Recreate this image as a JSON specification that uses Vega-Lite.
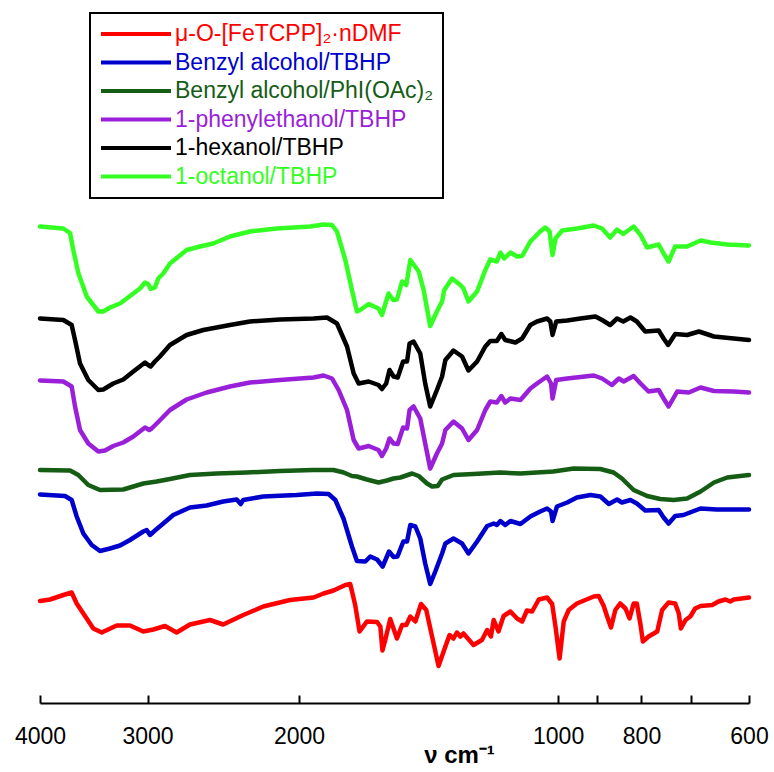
{
  "$schema": "https://vega.github.io/schema/vega-lite/v6.json",
  "autosize": "none",
  "width": 709,
  "height": 703,
  "padding": {"left": 40, "top": 0, "right": 25, "bottom": 69},
  "background": "white",
  "config": {"view": {"stroke": null}, "font": "Liberation Sans"},
  "datasets": {
    "names": [
      {"id": 1, "sample": "μ-O-[FeTCPP]₂·nDMF"},
      {"id": 2, "sample": "Benzyl alcohol/TBHP"},
      {"id": 3, "sample": "Benzyl alcohol/PhI(OAc)₂"},
      {"id": 4, "sample": "1-phenylethanol/TBHP"},
      {"id": 5, "sample": "1-hexanol/TBHP"},
      {"id": 6, "sample": "1-octanol/TBHP"}
    ],
    "spectra": [
      {"id":6,"nu":4000,"T":95.3},{"id":6,"nu":3758,"T":94.9},{"id":6,"nu":3691,"T":94.0},{"id":6,"nu":3659,"T":90.6},{"id":6,"nu":3610,"T":86.0},{"id":6,"nu":3530,"T":81.3},{"id":6,"nu":3422,"T":78.3},{"id":6,"nu":3377,"T":78.3},{"id":6,"nu":3317,"T":79.1},{"id":6,"nu":3229,"T":79.9},{"id":6,"nu":3144,"T":81.4},{"id":6,"nu":3061,"T":82.9},{"id":6,"nu":3020,"T":84.1},{"id":6,"nu":2994,"T":83.8},{"id":6,"nu":2975,"T":82.8},{"id":6,"nu":2941,"T":83.1},{"id":6,"nu":2915,"T":84.9},{"id":6,"nu":2876,"T":85.9},{"id":6,"nu":2825,"T":87.9},{"id":6,"nu":2702,"T":90.6},{"id":6,"nu":2607,"T":91.3},{"id":6,"nu":2516,"T":91.9},{"id":6,"nu":2406,"T":93.3},{"id":6,"nu":2281,"T":94.3},{"id":6,"nu":2123,"T":94.9},{"id":6,"nu":1941,"T":95.3},{"id":6,"nu":1873,"T":95.7},{"id":6,"nu":1831,"T":95.6},{"id":6,"nu":1807,"T":94.3},{"id":6,"nu":1767,"T":88.6},{"id":6,"nu":1736,"T":82.6},{"id":6,"nu":1713,"T":78.3},{"id":6,"nu":1698,"T":78.6},{"id":6,"nu":1660,"T":79.8},{"id":6,"nu":1617,"T":78.9},{"id":6,"nu":1602,"T":77.6},{"id":6,"nu":1574,"T":81.9},{"id":6,"nu":1555,"T":80.6},{"id":6,"nu":1539,"T":80.7},{"id":6,"nu":1518,"T":84.3},{"id":6,"nu":1501,"T":83.6},{"id":6,"nu":1485,"T":88.6},{"id":6,"nu":1452,"T":86.3},{"id":6,"nu":1433,"T":82.6},{"id":6,"nu":1408,"T":75.4},{"id":6,"nu":1383,"T":78.3},{"id":6,"nu":1364,"T":80.3},{"id":6,"nu":1356,"T":82.6},{"id":6,"nu":1328,"T":84.9},{"id":6,"nu":1299,"T":83.6},{"id":6,"nu":1288,"T":82.9},{"id":6,"nu":1271,"T":80.3},{"id":6,"nu":1242,"T":82.3},{"id":6,"nu":1215,"T":86.6},{"id":6,"nu":1199,"T":88.7},{"id":6,"nu":1178,"T":88.3},{"id":6,"nu":1167,"T":90.1},{"id":6,"nu":1155,"T":88.9},{"id":6,"nu":1136,"T":90.1},{"id":6,"nu":1116,"T":89.3},{"id":6,"nu":1101,"T":89.4},{"id":6,"nu":1077,"T":92.3},{"id":6,"nu":1049,"T":94.3},{"id":6,"nu":1035,"T":95.1},{"id":6,"nu":1023,"T":94.3},{"id":6,"nu":1015,"T":89.6},{"id":6,"nu":1007,"T":92.9},{"id":6,"nu":989,"T":94.5},{"id":6,"nu":951,"T":94.9},{"id":6,"nu":909,"T":95.5},{"id":6,"nu":889,"T":94.9},{"id":6,"nu":870,"T":93.1},{"id":6,"nu":854,"T":94.7},{"id":6,"nu":840,"T":93.8},{"id":6,"nu":817,"T":95.3},{"id":6,"nu":802,"T":93.6},{"id":6,"nu":788,"T":91.1},{"id":6,"nu":764,"T":91.7},{"id":6,"nu":754,"T":89.9},{"id":6,"nu":744,"T":88.3},{"id":6,"nu":731,"T":91.3},{"id":6,"nu":708,"T":91.3},{"id":6,"nu":683,"T":92.5},{"id":6,"nu":665,"T":92.1},{"id":6,"nu":636,"T":91.7},{"id":6,"nu":600,"T":91.5},
      {"id":5,"nu":4000,"T":76.9},{"id":5,"nu":3758,"T":76.6},{"id":5,"nu":3675,"T":75.6},{"id":5,"nu":3642,"T":72.6},{"id":5,"nu":3594,"T":67.9},{"id":5,"nu":3515,"T":64.6},{"id":5,"nu":3422,"T":62.6},{"id":5,"nu":3377,"T":62.7},{"id":5,"nu":3288,"T":63.9},{"id":5,"nu":3201,"T":64.7},{"id":5,"nu":3116,"T":66.3},{"id":5,"nu":3020,"T":68.1},{"id":5,"nu":2994,"T":67.6},{"id":5,"nu":2975,"T":67.3},{"id":5,"nu":2941,"T":68.3},{"id":5,"nu":2902,"T":69.3},{"id":5,"nu":2825,"T":71.6},{"id":5,"nu":2702,"T":73.6},{"id":5,"nu":2584,"T":74.6},{"id":5,"nu":2406,"T":75.6},{"id":5,"nu":2281,"T":76.3},{"id":5,"nu":2105,"T":76.7},{"id":5,"nu":1924,"T":76.9},{"id":5,"nu":1856,"T":77.1},{"id":5,"nu":1807,"T":75.9},{"id":5,"nu":1759,"T":71.3},{"id":5,"nu":1728,"T":65.9},{"id":5,"nu":1705,"T":63.9},{"id":5,"nu":1660,"T":64.3},{"id":5,"nu":1617,"T":63.6},{"id":5,"nu":1602,"T":62.8},{"id":5,"nu":1584,"T":63.9},{"id":5,"nu":1570,"T":66.6},{"id":5,"nu":1553,"T":65.3},{"id":5,"nu":1536,"T":65.1},{"id":5,"nu":1514,"T":68.3},{"id":5,"nu":1498,"T":68.3},{"id":5,"nu":1488,"T":71.9},{"id":5,"nu":1472,"T":72.3},{"id":5,"nu":1446,"T":69.9},{"id":5,"nu":1427,"T":63.9},{"id":5,"nu":1408,"T":59.3},{"id":5,"nu":1383,"T":62.6},{"id":5,"nu":1364,"T":65.3},{"id":5,"nu":1352,"T":68.6},{"id":5,"nu":1323,"T":70.5},{"id":5,"nu":1293,"T":69.3},{"id":5,"nu":1271,"T":66.5},{"id":5,"nu":1242,"T":68.3},{"id":5,"nu":1215,"T":71.3},{"id":5,"nu":1199,"T":72.4},{"id":5,"nu":1178,"T":72.4},{"id":5,"nu":1164,"T":73.8},{"id":5,"nu":1152,"T":72.6},{"id":5,"nu":1121,"T":72.1},{"id":5,"nu":1101,"T":72.9},{"id":5,"nu":1077,"T":75.6},{"id":5,"nu":1058,"T":76.3},{"id":5,"nu":1030,"T":76.9},{"id":5,"nu":1021,"T":76.3},{"id":5,"nu":1015,"T":73.6},{"id":5,"nu":1005,"T":76.3},{"id":5,"nu":976,"T":76.5},{"id":5,"nu":942,"T":76.9},{"id":5,"nu":905,"T":77.3},{"id":5,"nu":889,"T":76.6},{"id":5,"nu":870,"T":75.6},{"id":5,"nu":854,"T":76.9},{"id":5,"nu":840,"T":76.3},{"id":5,"nu":824,"T":77.1},{"id":5,"nu":810,"T":76.3},{"id":5,"nu":792,"T":74.3},{"id":5,"nu":764,"T":74.5},{"id":5,"nu":754,"T":72.9},{"id":5,"nu":745,"T":71.6},{"id":5,"nu":731,"T":73.8},{"id":5,"nu":708,"T":73.6},{"id":5,"nu":686,"T":74.3},{"id":5,"nu":659,"T":73.3},{"id":5,"nu":625,"T":72.9},{"id":5,"nu":600,"T":72.6},
      {"id":4,"nu":4000,"T":64.5},{"id":4,"nu":3758,"T":64.3},{"id":4,"nu":3675,"T":63.3},{"id":4,"nu":3642,"T":59.3},{"id":4,"nu":3594,"T":54.6},{"id":4,"nu":3515,"T":51.9},{"id":4,"nu":3422,"T":50.3},{"id":4,"nu":3361,"T":50.5},{"id":4,"nu":3288,"T":51.4},{"id":4,"nu":3201,"T":52.1},{"id":4,"nu":3116,"T":53.3},{"id":4,"nu":3020,"T":55.1},{"id":4,"nu":2986,"T":54.6},{"id":4,"nu":2967,"T":54.9},{"id":4,"nu":2927,"T":55.9},{"id":4,"nu":2825,"T":58.6},{"id":4,"nu":2702,"T":60.7},{"id":4,"nu":2561,"T":62.1},{"id":4,"nu":2406,"T":63.3},{"id":4,"nu":2281,"T":64.1},{"id":4,"nu":2105,"T":64.6},{"id":4,"nu":1924,"T":65.1},{"id":4,"nu":1873,"T":65.5},{"id":4,"nu":1831,"T":64.9},{"id":4,"nu":1799,"T":62.6},{"id":4,"nu":1759,"T":58.6},{"id":4,"nu":1728,"T":52.6},{"id":4,"nu":1705,"T":50.9},{"id":4,"nu":1660,"T":51.4},{"id":4,"nu":1617,"T":50.6},{"id":4,"nu":1602,"T":49.4},{"id":4,"nu":1584,"T":50.9},{"id":4,"nu":1570,"T":52.9},{"id":4,"nu":1553,"T":51.9},{"id":4,"nu":1536,"T":51.8},{"id":4,"nu":1514,"T":55.1},{"id":4,"nu":1498,"T":54.9},{"id":4,"nu":1488,"T":58.6},{"id":4,"nu":1472,"T":59.3},{"id":4,"nu":1446,"T":56.9},{"id":4,"nu":1427,"T":51.9},{"id":4,"nu":1408,"T":46.9},{"id":4,"nu":1383,"T":49.9},{"id":4,"nu":1364,"T":51.9},{"id":4,"nu":1352,"T":54.6},{"id":4,"nu":1323,"T":56.3},{"id":4,"nu":1293,"T":54.9},{"id":4,"nu":1271,"T":52.6},{"id":4,"nu":1242,"T":54.6},{"id":4,"nu":1215,"T":58.6},{"id":4,"nu":1199,"T":60.3},{"id":4,"nu":1178,"T":60.1},{"id":4,"nu":1164,"T":61.4},{"id":4,"nu":1152,"T":60.1},{"id":4,"nu":1136,"T":60.9},{"id":4,"nu":1106,"T":60.6},{"id":4,"nu":1077,"T":62.9},{"id":4,"nu":1058,"T":63.9},{"id":4,"nu":1030,"T":65.3},{"id":4,"nu":1019,"T":63.9},{"id":4,"nu":1015,"T":60.9},{"id":4,"nu":1005,"T":64.6},{"id":4,"nu":976,"T":64.9},{"id":4,"nu":909,"T":65.5},{"id":4,"nu":889,"T":64.9},{"id":4,"nu":866,"T":63.6},{"id":4,"nu":850,"T":64.9},{"id":4,"nu":839,"T":64.3},{"id":4,"nu":817,"T":65.4},{"id":4,"nu":802,"T":63.9},{"id":4,"nu":785,"T":62.3},{"id":4,"nu":764,"T":62.6},{"id":4,"nu":754,"T":60.9},{"id":4,"nu":744,"T":59.3},{"id":4,"nu":727,"T":62.3},{"id":4,"nu":705,"T":62.1},{"id":4,"nu":683,"T":63.1},{"id":4,"nu":659,"T":62.4},{"id":4,"nu":625,"T":62.3},{"id":4,"nu":600,"T":62.1},
      {"id":3,"nu":4000,"T":46.6},{"id":3,"nu":3691,"T":46.5},{"id":3,"nu":3610,"T":45.6},{"id":3,"nu":3515,"T":43.6},{"id":3,"nu":3407,"T":42.6},{"id":3,"nu":3201,"T":42.7},{"id":3,"nu":3116,"T":43.3},{"id":3,"nu":3034,"T":43.9},{"id":3,"nu":2927,"T":44.3},{"id":3,"nu":2825,"T":44.8},{"id":3,"nu":2678,"T":45.6},{"id":3,"nu":2493,"T":45.9},{"id":3,"nu":2301,"T":46.1},{"id":3,"nu":2105,"T":46.4},{"id":3,"nu":1924,"T":46.6},{"id":3,"nu":1824,"T":46.6},{"id":3,"nu":1775,"T":46.1},{"id":3,"nu":1736,"T":45.4},{"id":3,"nu":1713,"T":45.3},{"id":3,"nu":1668,"T":44.7},{"id":3,"nu":1617,"T":44.1},{"id":3,"nu":1581,"T":44.5},{"id":3,"nu":1553,"T":44.9},{"id":3,"nu":1525,"T":45.1},{"id":3,"nu":1478,"T":45.9},{"id":3,"nu":1452,"T":45.4},{"id":3,"nu":1420,"T":43.9},{"id":3,"nu":1401,"T":43.3},{"id":3,"nu":1380,"T":43.4},{"id":3,"nu":1364,"T":44.7},{"id":3,"nu":1323,"T":45.6},{"id":3,"nu":1254,"T":45.8},{"id":3,"nu":1167,"T":46.1},{"id":3,"nu":1106,"T":45.9},{"id":3,"nu":1013,"T":46.3},{"id":3,"nu":959,"T":46.9},{"id":3,"nu":893,"T":46.8},{"id":3,"nu":862,"T":46.1},{"id":3,"nu":843,"T":44.9},{"id":3,"nu":817,"T":42.6},{"id":3,"nu":788,"T":41.4},{"id":3,"nu":761,"T":40.8},{"id":3,"nu":734,"T":40.6},{"id":3,"nu":708,"T":40.9},{"id":3,"nu":683,"T":42.3},{"id":3,"nu":659,"T":44.1},{"id":3,"nu":636,"T":45.1},{"id":3,"nu":600,"T":45.6},
      {"id":2,"nu":4000,"T":41.7},{"id":2,"nu":3741,"T":41.4},{"id":2,"nu":3675,"T":40.6},{"id":2,"nu":3626,"T":37.3},{"id":2,"nu":3562,"T":33.9},{"id":2,"nu":3483,"T":31.6},{"id":2,"nu":3407,"T":30.4},{"id":2,"nu":3317,"T":30.9},{"id":2,"nu":3229,"T":31.5},{"id":2,"nu":3144,"T":32.6},{"id":2,"nu":3034,"T":34.3},{"id":2,"nu":3007,"T":34.6},{"id":2,"nu":2980,"T":33.6},{"id":2,"nu":2941,"T":34.5},{"id":2,"nu":2876,"T":35.9},{"id":2,"nu":2800,"T":37.6},{"id":2,"nu":2678,"T":39.1},{"id":2,"nu":2561,"T":39.5},{"id":2,"nu":2450,"T":40.3},{"id":2,"nu":2363,"T":40.7},{"id":2,"nu":2338,"T":39.8},{"id":2,"nu":2322,"T":40.6},{"id":2,"nu":2201,"T":41.3},{"id":2,"nu":2013,"T":41.6},{"id":2,"nu":1906,"T":41.9},{"id":2,"nu":1848,"T":41.8},{"id":2,"nu":1815,"T":40.6},{"id":2,"nu":1775,"T":36.8},{"id":2,"nu":1736,"T":31.3},{"id":2,"nu":1713,"T":28.4},{"id":2,"nu":1675,"T":28.3},{"id":2,"nu":1653,"T":29.3},{"id":2,"nu":1623,"T":28.7},{"id":2,"nu":1599,"T":27.3},{"id":2,"nu":1572,"T":30.3},{"id":2,"nu":1553,"T":29.2},{"id":2,"nu":1537,"T":29.3},{"id":2,"nu":1513,"T":32.3},{"id":2,"nu":1498,"T":32.3},{"id":2,"nu":1485,"T":35.6},{"id":2,"nu":1465,"T":35.3},{"id":2,"nu":1446,"T":32.9},{"id":2,"nu":1427,"T":27.9},{"id":2,"nu":1408,"T":23.8},{"id":2,"nu":1389,"T":26.3},{"id":2,"nu":1364,"T":29.9},{"id":2,"nu":1352,"T":31.9},{"id":2,"nu":1323,"T":32.9},{"id":2,"nu":1293,"T":31.9},{"id":2,"nu":1271,"T":29.9},{"id":2,"nu":1242,"T":32.3},{"id":2,"nu":1209,"T":35.4},{"id":2,"nu":1188,"T":35.9},{"id":2,"nu":1178,"T":35.6},{"id":2,"nu":1167,"T":36.4},{"id":2,"nu":1152,"T":35.6},{"id":2,"nu":1136,"T":36.4},{"id":2,"nu":1106,"T":35.8},{"id":2,"nu":1077,"T":37.3},{"id":2,"nu":1049,"T":38.3},{"id":2,"nu":1030,"T":38.9},{"id":2,"nu":1019,"T":38.3},{"id":2,"nu":1015,"T":36.4},{"id":2,"nu":1003,"T":39.3},{"id":2,"nu":976,"T":40.1},{"id":2,"nu":951,"T":41.1},{"id":2,"nu":917,"T":41.6},{"id":2,"nu":893,"T":41.3},{"id":2,"nu":873,"T":39.8},{"id":2,"nu":854,"T":40.7},{"id":2,"nu":843,"T":40.1},{"id":2,"nu":824,"T":40.6},{"id":2,"nu":810,"T":39.9},{"id":2,"nu":792,"T":38.5},{"id":2,"nu":764,"T":38.6},{"id":2,"nu":754,"T":37.1},{"id":2,"nu":744,"T":35.9},{"id":2,"nu":731,"T":37.4},{"id":2,"nu":715,"T":37.6},{"id":2,"nu":683,"T":38.9},{"id":2,"nu":654,"T":38.7},{"id":2,"nu":600,"T":38.7},
      {"id":1,"nu":4000,"T":20.4},{"id":1,"nu":3894,"T":20.7},{"id":1,"nu":3758,"T":21.6},{"id":1,"nu":3675,"T":22.1},{"id":1,"nu":3626,"T":19.9},{"id":1,"nu":3562,"T":17.9},{"id":1,"nu":3468,"T":14.9},{"id":1,"nu":3391,"T":14.1},{"id":1,"nu":3258,"T":15.5},{"id":1,"nu":3144,"T":15.5},{"id":1,"nu":3034,"T":14.3},{"id":1,"nu":2954,"T":14.7},{"id":1,"nu":2863,"T":15.4},{"id":1,"nu":2775,"T":14.1},{"id":1,"nu":2678,"T":15.7},{"id":1,"nu":2538,"T":16.6},{"id":1,"nu":2450,"T":15.7},{"id":1,"nu":2322,"T":17.6},{"id":1,"nu":2201,"T":19.3},{"id":1,"nu":2049,"T":20.6},{"id":1,"nu":1924,"T":21.1},{"id":1,"nu":1873,"T":21.9},{"id":1,"nu":1824,"T":22.5},{"id":1,"nu":1767,"T":23.6},{"id":1,"nu":1744,"T":23.8},{"id":1,"nu":1721,"T":19.6},{"id":1,"nu":1701,"T":14.3},{"id":1,"nu":1668,"T":16.3},{"id":1,"nu":1623,"T":16.2},{"id":1,"nu":1609,"T":15.3},{"id":1,"nu":1600,"T":10.5},{"id":1,"nu":1588,"T":12.6},{"id":1,"nu":1567,"T":16.8},{"id":1,"nu":1539,"T":12.9},{"id":1,"nu":1518,"T":15.6},{"id":1,"nu":1501,"T":15.6},{"id":1,"nu":1485,"T":17.3},{"id":1,"nu":1465,"T":16.3},{"id":1,"nu":1443,"T":19.8},{"id":1,"nu":1423,"T":18.6},{"id":1,"nu":1401,"T":13.3},{"id":1,"nu":1377,"T":7.4},{"id":1,"nu":1352,"T":11.3},{"id":1,"nu":1337,"T":13.6},{"id":1,"nu":1323,"T":12.9},{"id":1,"nu":1311,"T":14.1},{"id":1,"nu":1299,"T":13.3},{"id":1,"nu":1288,"T":13.9},{"id":1,"nu":1254,"T":11.6},{"id":1,"nu":1226,"T":12.6},{"id":1,"nu":1209,"T":14.6},{"id":1,"nu":1197,"T":13.3},{"id":1,"nu":1188,"T":16.6},{"id":1,"nu":1173,"T":14.3},{"id":1,"nu":1157,"T":17.4},{"id":1,"nu":1136,"T":18.3},{"id":1,"nu":1116,"T":16.9},{"id":1,"nu":1101,"T":16.3},{"id":1,"nu":1087,"T":18.5},{"id":1,"nu":1072,"T":18.3},{"id":1,"nu":1053,"T":20.7},{"id":1,"nu":1030,"T":21.1},{"id":1,"nu":1016,"T":19.8},{"id":1,"nu":1007,"T":15.3},{"id":1,"nu":996,"T":8.9},{"id":1,"nu":985,"T":16.3},{"id":1,"nu":972,"T":18.6},{"id":1,"nu":951,"T":19.9},{"id":1,"nu":909,"T":21.3},{"id":1,"nu":897,"T":21.4},{"id":1,"nu":885,"T":19.4},{"id":1,"nu":877,"T":17.3},{"id":1,"nu":868,"T":15.1},{"id":1,"nu":858,"T":18.6},{"id":1,"nu":847,"T":19.9},{"id":1,"nu":835,"T":18.9},{"id":1,"nu":826,"T":16.9},{"id":1,"nu":817,"T":19.9},{"id":1,"nu":810,"T":19.9},{"id":1,"nu":802,"T":15.6},{"id":1,"nu":797,"T":12.3},{"id":1,"nu":785,"T":13.3},{"id":1,"nu":767,"T":14.3},{"id":1,"nu":757,"T":18.6},{"id":1,"nu":744,"T":20.1},{"id":1,"nu":731,"T":19.9},{"id":1,"nu":724,"T":17.9},{"id":1,"nu":720,"T":14.9},{"id":1,"nu":711,"T":16.6},{"id":1,"nu":702,"T":17.3},{"id":1,"nu":693,"T":18.9},{"id":1,"nu":683,"T":19.4},{"id":1,"nu":662,"T":19.6},{"id":1,"nu":651,"T":20.3},{"id":1,"nu":639,"T":20.7},{"id":1,"nu":631,"T":20.3},{"id":1,"nu":625,"T":20.7},{"id":1,"nu":600,"T":21.1}
    ]
  },
  "data": {"name": "spectra"},
  "transform": [
    {"lookup": "id", "from": {"data": {"name": "names"}, "key": "id", "fields": ["sample"]}}
  ],
  "mark": {"type": "line", "strokeWidth": 4.5, "strokeJoin": "round", "strokeCap": "round", "clip": false},
  "encoding": {
    "x": {
      "field": "nu",
      "type": "quantitative",
      "scale": {"type": "log", "domain": [600, 4000], "reverse": true, "nice": false},
      "axis": {
        "values": [4000, 3000, 2000, 1000, 900, 800, 700, 600],
        "format": "d",
        "labelExpr": "datum.value == 900 || datum.value == 700 ? '' : datum.label",
        "grid": false,
        "domainColor": "black",
        "domainWidth": 2,
        "tickColor": "black",
        "tickWidth": 2,
        "tickSize": -8,
        "labelFont": "Liberation Sans",
        "labelFontSize": 23,
        "labelColor": "black",
        "labelPadding": 30,
        "labelFlush": false,
        "labelOverlap": false,
        "title": "ν cm⁻¹",
        "titleFont": "Liberation Sans",
        "titleFontSize": 24,
        "titleFontWeight": "bold",
        "titleColor": "black",
        "titleX": 419,
        "titleY": 59,
        "titleBaseline": "alphabetic",
        "titleAlign": "center"
      }
    },
    "y": {
      "field": "T",
      "type": "quantitative",
      "scale": {"domain": [0, 140.6], "nice": false, "zero": false},
      "axis": null
    },
    "color": {
      "field": "sample",
      "type": "nominal",
      "scale": {
        "domain": ["μ-O-[FeTCPP]₂·nDMF", "Benzyl alcohol/TBHP", "Benzyl alcohol/PhI(OAc)₂", "1-phenylethanol/TBHP", "1-hexanol/TBHP", "1-octanol/TBHP"],
        "range": ["#ff0000", "#0000cc", "#155c15", "#9a1fd9", "#000000", "#33ff22"]
      },
      "legend": {
        "orient": "none",
        "legendX": 50,
        "legendY": 13,
        "title": null,
        "padding": 9,
        "strokeColor": "black",
        "fillColor": "white",
        "symbolType": "M-1,0H6",
        "symbolSize": 400,
        "symbolStrokeWidth": 4,
        "labelOffset": 52,
        "labelFont": "Liberation Sans",
        "labelFontSize": 23,
        "labelLimit": 500,
        "rowPadding": 4.5,
        "encode": {
          "legend": {"update": {"strokeWidth": {"value": 2}}},
          "labels": {"update": {"fill": {"scale": "color", "field": "value"}}}
        }
      }
    }
  }
}
